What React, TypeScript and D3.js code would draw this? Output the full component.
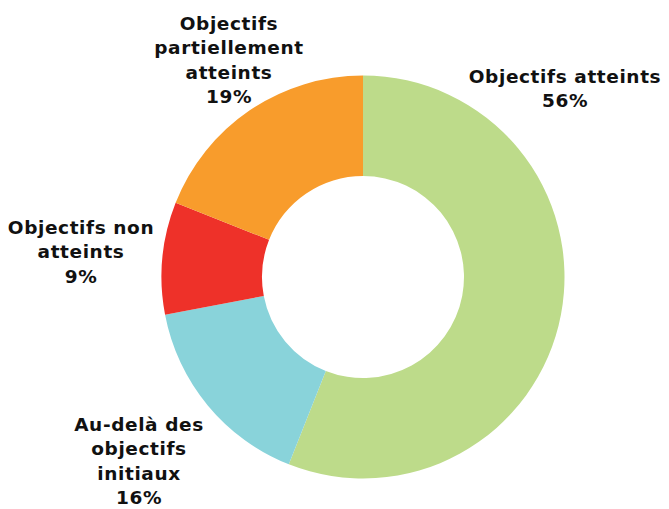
import React from "react";
import * as d3 from "d3";

const categories = ["Objectifs atteints", "Au-delà des objectifs initiaux", "Objectifs non atteints", "Objectifs partiellement atteints"];
const values = [56, 16, 9, 19];
const colors = ["#BDDB8A", "#89D3DA", "#EE3129", "#F89C2C"];
const labelLines = [
  ["Objectifs atteints", "56%"],
  ["Au-delà des", "objectifs", "initiaux", "16%"],
  ["Objectifs non", "atteints", "9%"],
  ["Objectifs", "partiellement", "atteints", "19%"],
];

const W = 669, H = 509;
const cx = 363, cy = 277, R = 201.5, r0 = 101;
// label anchor (center x, first-line center y)
const labelPos: [number, number][] = [
  [565, 76],
  [139, 424],
  [81, 227],
  [229, 23],
];
const lineH = 24.5;

export default function App() {
  const pie = d3.pie<number>().sort(null).value((d) => d);
  const arcs = pie(values);
  const arc = d3.arc<d3.PieArcDatum<number>>().innerRadius(r0).outerRadius(R);
  return (
    <svg width={W} height={H} style={{ position: "absolute", left: 0, top: 0, background: "#fff" }}>
      <g transform={`translate(${cx},${cy})`}>
        {arcs.map((a, i) => (
          <path key={i} d={arc(a) || ""} fill={colors[i]} />
        ))}
      </g>
      {labelLines.map((lines, i) => (
        <text key={i} textAnchor="middle" fontFamily="'DejaVu Sans', sans-serif" fontWeight={700} fontSize={18.5} letterSpacing={0.6} fill="#111">
          {lines.map((l, j) => (
            <tspan key={j} x={labelPos[i][0]} y={labelPos[i][1] + j * lineH} dominantBaseline="central">{l}</tspan>
          ))}
        </text>
      ))}
    </svg>
  );
}
